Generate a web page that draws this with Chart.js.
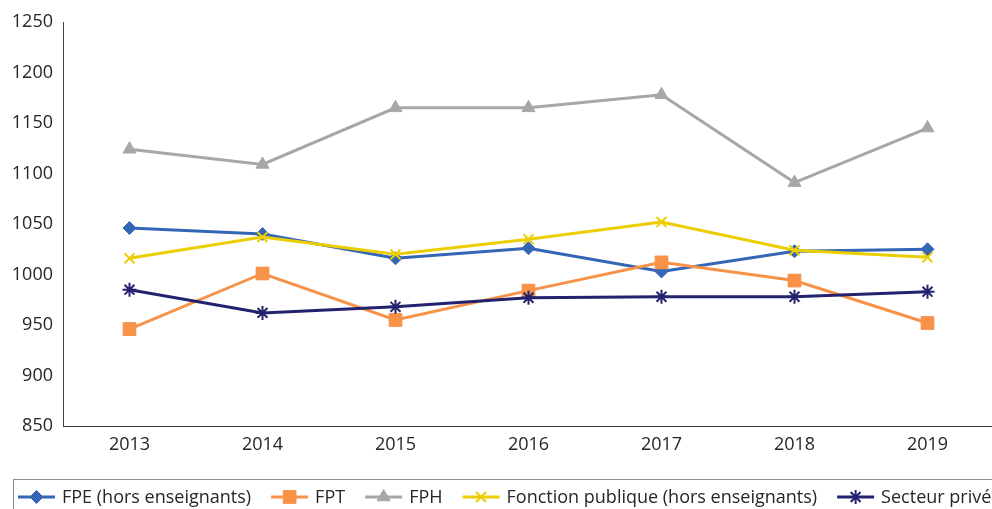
<!DOCTYPE html>
<html>
<head>
<meta charset="utf-8">
<script src="https://cdn.jsdelivr.net/npm/chart.js@4/dist/chart.umd.min.js"></script>
<style>
  html, body { margin: 0; padding: 0; background: #fff; overflow: hidden; }
</style>
</head>
<body>
<canvas id="chart" width="1004" height="509"></canvas>
<script>
var annees = ['2013', '2014', '2015', '2016', '2017', '2018', '2019'];
var fpe = [1046, 1040, 1016, 1026, 1003, 1023, 1025];
var fpt = [946, 1001, 955, 984, 1012, 994, 952];
var fph = [1124, 1109, 1165, 1165, 1178, 1091, 1145];
var fonctionPublique = [1016, 1037, 1020, 1035, 1052, 1024, 1017];
var secteurPrive = [985, 962, 968, 977, 978, 978, 983];
var yTicks = [850, 900, 950, 1000, 1050, 1100, 1150, 1200, 1250];

var police = '"Open Sans", "DejaVu Sans", sans-serif';

function serie(label, data, color, style, radius, order) {
  return {
    label: label,
    data: data,
    borderColor: color,
    backgroundColor: color,
    pointBackgroundColor: color,
    pointBorderColor: color,
    borderWidth: 3,
    pointStyle: style,
    pointRadius: radius,
    pointHoverRadius: radius,
    pointBorderWidth: (style == 'crossRot' || style == 'star') ? 2 : 1,
    tension: 0,
    fill: false,
    order: order
  };
}

// legende dessinee a la main (ligne + marqueur + texte, dans un cadre)
var legendeCadre = {
  id: 'legendeCadre',
  afterDraw: function(chart) {
    var ctx = chart.ctx;
    ctx.save();
    ctx.strokeStyle = '#8c8c8c';
    ctx.lineWidth = 1;
    ctx.strokeRect(13.5, 479.5, 1000, 60);
    ctx.font = '18px ' + police;
    ctx.textBaseline = 'middle';
    var x = 18, y = 497;
    chart.data.datasets.forEach(function(ds) {
      ctx.strokeStyle = ds.borderColor;
      ctx.fillStyle = ds.borderColor;
      ctx.lineWidth = 3;
      ctx.beginPath();
      ctx.moveTo(x, y);
      ctx.lineTo(x + 37, y);
      ctx.stroke();
      ctx.lineWidth = ds.pointBorderWidth;
      Chart.helpers.drawPoint(ctx, {
        pointStyle: ds.pointStyle,
        radius: ds.pointRadius,
        borderWidth: ds.pointBorderWidth,
        rotation: 0
      }, x + 18.5, y);
      ctx.fillStyle = '#262626';
      ctx.fillText(ds.label, x + 44, y + 1);
      x += 44 + ctx.measureText(ds.label).width + 20;
    });
    ctx.restore();
  }
};

var ctx = document.getElementById('chart');

var graphique = new Chart(ctx, {
  type: 'line',
  data: {
    labels: annees,
    datasets: [
      serie('FPE (hors enseignants)', fpe, '#3466b6', 'rectRot', 6.5, 5),
      serie('FPT', fpt, '#f79248', 'rect', 9, 4),
      serie('FPH', fph, '#a8a6a6', 'triangle', 7.5, 3),
      serie('Fonction publique (hors enseignants)', fonctionPublique, '#ebcd00', 'crossRot', 7, 2),
      serie('Secteur privé', secteurPrive, '#23226f', 'star', 7, 1)
    ]
  },
  options: {
    responsive: false,
    animation: false,
    layout: { padding: { top: 22, right: 0, bottom: 43, left: 0 } },
    plugins: {
      legend: { display: false },
      tooltip: { enabled: false }
    },
    scales: {
      x: {
        offset: true,
        grid: { display: false, drawTicks: false },
        border: { display: true, color: '#404040', width: 1 },
        ticks: { color: '#262626', font: { family: police, size: 18 }, padding: 8 },
        afterFit: function(s) { s.height = 40; }
      },
      y: {
        min: 850,
        max: 1250,
        afterBuildTicks: function(s) { s.ticks = yTicks.map(function(v) { return { value: v }; }); },
        grid: { display: false, drawTicks: false },
        border: { display: true, color: '#404040', width: 1 },
        ticks: {
          color: '#262626',
          font: { family: police, size: 18 },
          padding: 10,
          callback: function(v) { return String(v); }
        },
        afterFit: function(s) { s.width = 63; }
      }
    }
  },
  plugins: [legendeCadre]
});
</script>
</body>
</html>
